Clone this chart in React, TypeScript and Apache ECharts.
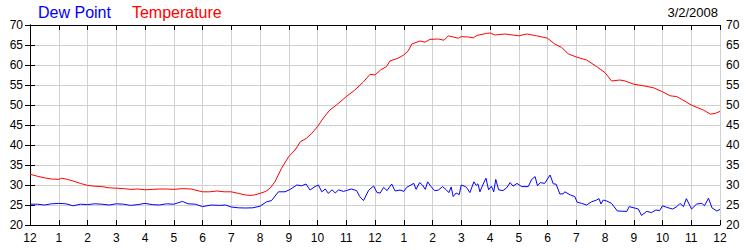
import React, { useEffect, useRef } from "react";
import * as echarts from "echarts";

const chartDate = "3/2/2008";
const hourLabels = ["12", "1", "2", "3", "4", "5", "6", "7", "8", "9", "10", "11", "12", "1", "2", "3", "4", "5", "6", "7", "8", "9", "10", "11", "12"];

const tempHours = [
  0, 0.25, 0.5, 0.75, 1.0, 1.1, 1.3, 1.5, 1.75, 2.0, 2.25, 2.5, 2.75, 3.0, 3.25, 3.5, 3.75, 4.0, 4.25, 4.5,
  4.75, 5.0, 5.3, 5.6, 6.0, 6.25, 6.5, 6.75, 7.0, 7.25, 7.5, 7.65, 7.8, 8.0, 8.2, 8.35, 8.52, 8.75, 9.0, 9.22,
  9.4, 9.62, 9.8, 10.0, 10.2, 10.43, 10.66, 11.0, 11.3, 11.6, 11.83, 12.0, 12.2, 12.4, 12.52, 12.8, 13.0, 13.15, 13.28, 13.57,
  13.74, 13.91, 14.2, 14.4, 14.55, 14.9, 15.0, 15.25, 15.42, 15.55, 15.88, 16.0, 16.17, 16.52, 17.0, 17.28, 17.62, 18.0, 18.26, 18.49,
  18.72, 19.0, 19.36, 19.71, 20.0, 20.23, 20.52, 20.7, 21.0, 21.34, 21.69, 22.0, 22.27, 22.5, 22.67, 23.0, 23.42, 23.67, 23.83, 24.0,
];
const tempValues = [
  32.7, 32.2, 31.8, 31.5, 31.4, 31.7, 31.4, 31.0, 30.4, 29.9, 29.7, 29.6, 29.3, 29.2, 29.1, 28.9, 29.0, 28.8, 28.9, 29.0,
  29.0, 28.9, 29.1, 29.0, 28.3, 28.3, 28.5, 28.3, 28.3, 27.9, 27.5, 27.4, 27.5, 27.9, 28.4, 29.2, 30.8, 34.2, 37.1, 38.75,
  40.8, 41.7, 42.9, 44.6, 46.7, 48.75, 50.0, 52.1, 53.75, 55.8, 57.7, 57.5, 58.8, 59.6, 61.0, 61.7, 62.5, 63.5, 65.25, 66.0,
  65.7, 66.4, 66.5, 66.2, 67.3, 66.7, 67.1, 67.0, 66.8, 67.4, 67.9, 68.0, 67.5, 67.75, 67.3, 67.75, 67.3, 66.7, 65.2, 64.4,
  62.8, 62.0, 61.25, 59.6, 58.1, 56.0, 56.25, 56.0, 55.2, 54.8, 54.3, 53.3, 52.3, 52.1, 51.4, 50.0, 48.75, 47.7, 47.9, 48.4,
];

const dewHours = [
  0, 0.25, 0.5, 0.75, 1.0, 1.25, 1.5, 1.75, 2.0, 2.25, 2.5, 2.75, 3.0, 3.25, 3.5, 3.75, 4.0, 4.25, 4.5, 4.75,
  5.0, 5.3, 5.5, 5.75, 6.0, 6.3, 6.6, 6.8, 7.0, 7.25, 7.5, 7.75, 8.0, 8.23, 8.4, 8.64, 8.87, 9.05, 9.28, 9.45,
  9.6, 9.74, 9.91, 10.03, 10.15, 10.27, 10.38, 10.5, 10.62, 10.73, 10.9, 11.0, 11.18, 11.36, 11.47, 11.6, 11.78, 11.95, 12.07, 12.18,
  12.3, 12.42, 12.58, 12.7, 12.87, 13.0, 13.1, 13.35, 13.43, 13.55, 13.65, 13.75, 13.83, 13.95, 14.07, 14.2, 14.35, 14.48, 14.57, 14.65,
  14.72, 14.82, 14.93, 15.0, 15.15, 15.2, 15.3, 15.44, 15.52, 15.58, 15.65, 15.73, 15.86, 15.95, 16.05, 16.13, 16.2, 16.3, 16.45, 16.58,
  16.7, 16.8, 16.94, 17.1, 17.33, 17.45, 17.57, 17.65, 17.75, 17.9, 18.09, 18.2, 18.3, 18.43, 18.55, 18.6, 18.8, 18.95, 19.03, 19.19,
  19.36, 19.53, 19.71, 19.79, 19.86, 19.94, 20.06, 20.23, 20.43, 20.76, 20.84, 21.05, 21.16, 21.27, 21.45, 21.62, 21.77, 21.9, 22.0, 22.15,
  22.35, 22.5, 22.61, 22.73, 22.83, 23.01, 23.19, 23.37, 23.46, 23.6, 23.72, 23.89, 24.0,
];
const dewValues = [
  25.2, 25.2, 25.0, 25.3, 25.4, 25.3, 24.8, 25.2, 25.1, 25.3, 25.2, 25.0, 25.3, 25.2, 24.9, 25.1, 25.4, 25.1, 25.0, 25.3,
  25.2, 25.9, 25.3, 25.2, 24.6, 25.0, 24.9, 25.0, 24.5, 24.3, 24.25, 24.3, 24.7, 25.8, 26.1, 28.3, 28.3, 28.9, 30.0, 29.8,
  30.25, 28.75, 29.6, 30.0, 28.3, 29.0, 27.9, 28.8, 28.0, 28.8, 28.4, 28.6, 29.0, 28.6, 27.1, 26.1, 28.7, 29.75, 28.1, 28.0,
  29.4, 28.6, 30.25, 28.5, 28.75, 28.4, 29.4, 30.4, 28.9, 30.6, 30.0, 28.9, 30.8, 29.6, 28.6, 28.7, 29.6, 28.8, 28.1, 29.5,
  27.1, 28.0, 27.6, 30.0, 29.6, 29.2, 28.1, 30.8, 29.9, 30.3, 28.3, 29.7, 31.7, 28.8, 29.7, 28.3, 31.4, 28.8, 28.6, 29.3,
  30.6, 29.7, 30.4, 29.6, 29.6, 31.4, 32.1, 29.8, 30.6, 30.4, 32.5, 30.3, 30.2, 27.75, 27.8, 28.3, 27.5, 27.1, 25.7, 25.4,
  25.0, 25.8, 26.25, 26.6, 25.25, 26.25, 26.0, 25.4, 23.5, 23.4, 24.6, 24.2, 24.0, 22.4, 23.4, 23.1, 23.75, 23.6, 24.8, 24.4,
  24.0, 24.6, 25.4, 24.6, 26.6, 24.0, 25.25, 25.4, 24.8, 26.7, 24.3, 23.5, 23.9,
];

const FONT = "'Liberation Sans', Arial, sans-serif";

function pairs(xs: number[], ys: number[]) {
  return xs.map((x, i) => [x, ys[i]]);
}

export default function App() {
  const ref = useRef<HTMLDivElement>(null);
  useEffect(() => {
    if (!ref.current) return;
    const chart = echarts.init(ref.current, undefined, { renderer: "svg" });
    const axisLine = { show: true, lineStyle: { color: "#000", width: 1 } };
    const axisTick = { show: true, inside: true, length: 5, lineStyle: { color: "#000", width: 1 } };
    const splitLine = { show: true, lineStyle: { color: "#d0d0d0", width: 1 } };
    const yCommon = {
      type: "value" as const,
      min: 20,
      max: 70,
      interval: 5,
      axisLine,
      axisTick,
      splitLine,
    };
    chart.setOption({
      animation: false,
      backgroundColor: "#fff",
      textStyle: { fontFamily: FONT },
      title: {
        text: chartDate,
        right: 27,
        top: 1,
        textStyle: { fontSize: 13, fontWeight: "normal", color: "#000", fontFamily: FONT },
      },
      legend: {
        left: 28,
        top: -1,
        icon: "none",
        itemWidth: 0,
        itemHeight: 0,
        itemGap: 16,
        selectedMode: false,
        textStyle: { fontSize: 16, fontFamily: FONT },
        data: [
          { name: "Dew Point", textStyle: { color: "#0000ff" } },
          { name: "Temperature", textStyle: { color: "#ff0000" } },
        ],
      },
      grid: { left: 30, right: 30, top: 25, bottom: 25, containLabel: false },
      xAxis: [
        {
          type: "value",
          position: "bottom",
          min: 0,
          max: 24,
          interval: 1,
          axisLine,
          axisTick,
          splitLine,
          axisLabel: {
            margin: 7,
            color: "#000",
            fontSize: 12,
            fontFamily: FONT,
            formatter: (v: number) => hourLabels[Math.round(v)] ?? "",
          },
        },
        {
          type: "value",
          position: "top",
          min: 0,
          max: 24,
          interval: 1,
          axisLine,
          axisTick,
          splitLine: { show: false },
          axisLabel: { show: false },
        },
      ],
      yAxis: [
        {
          ...yCommon,
          position: "left",
          axisLabel: { margin: 7, color: "#000", fontSize: 12, fontFamily: FONT },
        },
        {
          ...yCommon,
          position: "right",
          splitLine: { show: false },
          axisLabel: { margin: 6, color: "#000", fontSize: 12, fontFamily: FONT },
        },
      ],
      series: [
        {
          name: "Dew Point",
          type: "line",
          xAxisIndex: 0,
          yAxisIndex: 0,
          data: pairs(dewHours, dewValues),
          showSymbol: false,
          symbol: "none",
          lineStyle: { color: "#0000ff", width: 1 },
          itemStyle: { color: "#0000ff" },
        },
        {
          name: "Temperature",
          type: "line",
          xAxisIndex: 0,
          yAxisIndex: 0,
          data: pairs(tempHours, tempValues),
          showSymbol: false,
          symbol: "none",
          lineStyle: { color: "#ff0000", width: 1 },
          itemStyle: { color: "#ff0000" },
        },
      ],
    });
    return () => chart.dispose();
  }, []);
  return (
    <div
      ref={ref}
      style={{ position: "fixed", left: 0, top: 0, width: 750, height: 250, background: "#fff" }}
    />
  );
}
